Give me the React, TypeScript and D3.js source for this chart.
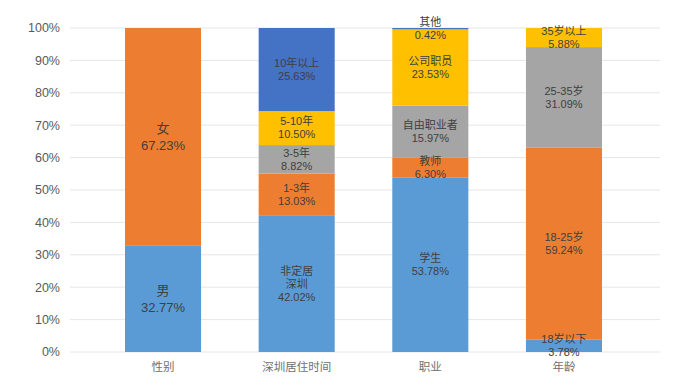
import React from 'react'
import * as d3 from 'd3'

const categories = ['性别', '深圳居住时间', '职业', '年龄']

const genderLabels = ['男', '女']
const genderValues = [32.77, 67.23]

const residenceLabels = ['非定居\n深圳', '1-3年', '3-5年', '5-10年', '10年以上']
const residenceValues = [42.02, 13.03, 8.82, 10.5, 25.63]

const jobLabels = ['学生', '教师', '自由职业者', '公司职员', '其他']
const jobValues = [53.78, 6.3, 15.97, 23.53, 0.42]

const ageLabels = ['18岁以下', '18-25岁', '25-35岁', '35岁以上']
const ageValues = [3.78, 59.24, 31.09, 5.88]

const yTicks = [0, 10, 20, 30, 40, 50, 60, 70, 80, 90, 100]

const colors = ['#5b9bd5', '#ed7d31', '#a5a5a5', '#ffc000', '#4472c4']

const W = 687
const H = 391
const FONT = '"Liberation Sans", "Noto Sans CJK SC", sans-serif'

export default function App() {
  const x = d3.scaleBand<string>()
    .domain(categories)
    .range([125, 602])
    .paddingInner(0.431)
    .paddingOuter(0)
  const y = d3.scaleLinear().domain([0, 100]).range([352, 28])

  const groups = [
    { labels: genderLabels, values: genderValues, size: 13, lh: 17 },
    { labels: residenceLabels, values: residenceValues, size: 11, lh: 13 },
    { labels: jobLabels, values: jobValues, size: 11, lh: 13 },
    { labels: ageLabels, values: ageValues, size: 11, lh: 13 },
  ]

  return (
    <svg width={W} height={H} style={{ position: 'absolute', left: 0, top: 0 }} fontFamily={FONT}>
      <rect width={W} height={H} fill="#fff" />
      {yTicks.map(t => (
        <g key={t}>
          <line x1={70} x2={660} y1={y(t)} y2={y(t)} stroke="#e6e6e6" strokeWidth={1} />
          <text x={60} y={y(t)} dy="0.35em" textAnchor="end" fontSize={12.5} fill="#595959">
            {t + '%'}
          </text>
        </g>
      ))}
      {groups.map((g, gi) => {
        const cat = categories[gi]
        const bx = x(cat) as number
        const bw = x.bandwidth()
        const cx = bx + bw / 2
        const stack = d3.cumsum(g.values)
        return (
          <g key={cat}>
            {g.values.map((v, i) => {
              const y0 = stack[i] - v
              const y1 = stack[i]
              return (
                <rect key={i} x={bx} width={bw} y={y(y1)} height={y(y0) - y(y1)} fill={colors[i]} />
              )
            })}
            {g.values.map((v, i) => {
              const mid = y(stack[i] - v / 2)
              const lines = [...g.labels[i].split('\n'), v.toFixed(2) + '%']
              const top = mid - ((lines.length - 1) * g.lh) / 2
              return (
                <text key={'l' + i} textAnchor="middle" fontSize={g.size} fill="#404040">
                  {lines.map((ln, k) => (
                    <tspan key={k} x={cx} y={top + k * g.lh} dy="0.35em">{ln}</tspan>
                  ))}
                </text>
              )
            })}
            <text x={cx} y={367} dy="0.35em" textAnchor="middle" fontSize={11.5} fill="#707070">
              {cat}
            </text>
          </g>
        )
      })}
    </svg>
  )
}
